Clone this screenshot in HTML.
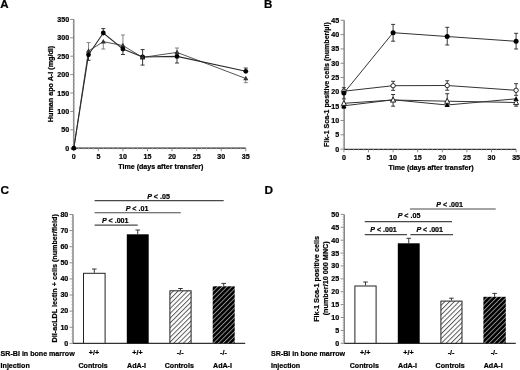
<!DOCTYPE html>
<html><head><meta charset="utf-8"><style>
html,body{margin:0;padding:0;background:#fff;width:520px;height:370px;overflow:hidden}
svg{display:block;filter:grayscale(1)}
text{font-family:"Liberation Sans", sans-serif;font-weight:bold;fill:#000;stroke:#000;stroke-width:0.22px}
</style></head><body>
<svg width="520" height="370" viewBox="0 0 520 370">
<defs>
<pattern id="hatchL" patternUnits="userSpaceOnUse" width="3.38" height="3.38" patternTransform="rotate(45)">
<rect width="3.38" height="3.38" fill="#fff"/><rect x="0" y="0" width="0.95" height="3.38" fill="#555"/></pattern>
<pattern id="hatchD" patternUnits="userSpaceOnUse" width="3.36" height="3.36" patternTransform="rotate(45)">
<rect width="3.36" height="3.36" fill="#000"/><rect x="0" y="0" width="0.9" height="3.36" fill="#999"/></pattern>
</defs>
<rect width="520" height="370" fill="#fff"/>
<text x="0.30" y="8.30" text-anchor="start" font-size="11.5" >A</text>
<text x="263.90" y="8.30" text-anchor="start" font-size="11.5" >B</text>
<text x="0.40" y="193.50" text-anchor="start" font-size="11.8" >C</text>
<text x="264.50" y="193.50" text-anchor="start" font-size="11.8" >D</text>
<line x1="73.80" y1="19.40" x2="73.80" y2="148.20" stroke="#666" stroke-width="1.2"/>
<line x1="73.80" y1="148.20" x2="245.79" y2="148.20" stroke="#2a2a2a" stroke-width="1.2"/>
<line x1="70.30" y1="148.20" x2="73.80" y2="148.20" stroke="#8a8a8a" stroke-width="1.0"/>
<text x="69.20" y="150.70" text-anchor="end" font-size="7.1" >0</text>
<line x1="70.30" y1="129.80" x2="73.80" y2="129.80" stroke="#8a8a8a" stroke-width="1.0"/>
<text x="69.20" y="132.30" text-anchor="end" font-size="7.1" >50</text>
<line x1="70.30" y1="111.40" x2="73.80" y2="111.40" stroke="#8a8a8a" stroke-width="1.0"/>
<text x="69.20" y="113.90" text-anchor="end" font-size="7.1" >100</text>
<line x1="70.30" y1="93.00" x2="73.80" y2="93.00" stroke="#8a8a8a" stroke-width="1.0"/>
<text x="69.20" y="95.50" text-anchor="end" font-size="7.1" >150</text>
<line x1="70.30" y1="74.60" x2="73.80" y2="74.60" stroke="#8a8a8a" stroke-width="1.0"/>
<text x="69.20" y="77.10" text-anchor="end" font-size="7.1" >200</text>
<line x1="70.30" y1="56.20" x2="73.80" y2="56.20" stroke="#8a8a8a" stroke-width="1.0"/>
<text x="69.20" y="58.70" text-anchor="end" font-size="7.1" >250</text>
<line x1="70.30" y1="37.80" x2="73.80" y2="37.80" stroke="#8a8a8a" stroke-width="1.0"/>
<text x="69.20" y="40.30" text-anchor="end" font-size="7.1" >300</text>
<line x1="70.30" y1="19.40" x2="73.80" y2="19.40" stroke="#8a8a8a" stroke-width="1.0"/>
<text x="69.20" y="21.90" text-anchor="end" font-size="7.1" >350</text>
<line x1="72.30" y1="144.52" x2="73.80" y2="144.52" stroke="#c4c4c4" stroke-width="0.8"/>
<line x1="72.30" y1="140.84" x2="73.80" y2="140.84" stroke="#c4c4c4" stroke-width="0.8"/>
<line x1="72.30" y1="137.16" x2="73.80" y2="137.16" stroke="#c4c4c4" stroke-width="0.8"/>
<line x1="72.30" y1="133.48" x2="73.80" y2="133.48" stroke="#c4c4c4" stroke-width="0.8"/>
<line x1="72.30" y1="126.12" x2="73.80" y2="126.12" stroke="#c4c4c4" stroke-width="0.8"/>
<line x1="72.30" y1="122.44" x2="73.80" y2="122.44" stroke="#c4c4c4" stroke-width="0.8"/>
<line x1="72.30" y1="118.76" x2="73.80" y2="118.76" stroke="#c4c4c4" stroke-width="0.8"/>
<line x1="72.30" y1="115.08" x2="73.80" y2="115.08" stroke="#c4c4c4" stroke-width="0.8"/>
<line x1="72.30" y1="107.72" x2="73.80" y2="107.72" stroke="#c4c4c4" stroke-width="0.8"/>
<line x1="72.30" y1="104.04" x2="73.80" y2="104.04" stroke="#c4c4c4" stroke-width="0.8"/>
<line x1="72.30" y1="100.36" x2="73.80" y2="100.36" stroke="#c4c4c4" stroke-width="0.8"/>
<line x1="72.30" y1="96.68" x2="73.80" y2="96.68" stroke="#c4c4c4" stroke-width="0.8"/>
<line x1="72.30" y1="89.32" x2="73.80" y2="89.32" stroke="#c4c4c4" stroke-width="0.8"/>
<line x1="72.30" y1="85.64" x2="73.80" y2="85.64" stroke="#c4c4c4" stroke-width="0.8"/>
<line x1="72.30" y1="81.96" x2="73.80" y2="81.96" stroke="#c4c4c4" stroke-width="0.8"/>
<line x1="72.30" y1="78.28" x2="73.80" y2="78.28" stroke="#c4c4c4" stroke-width="0.8"/>
<line x1="72.30" y1="70.92" x2="73.80" y2="70.92" stroke="#c4c4c4" stroke-width="0.8"/>
<line x1="72.30" y1="67.24" x2="73.80" y2="67.24" stroke="#c4c4c4" stroke-width="0.8"/>
<line x1="72.30" y1="63.56" x2="73.80" y2="63.56" stroke="#c4c4c4" stroke-width="0.8"/>
<line x1="72.30" y1="59.88" x2="73.80" y2="59.88" stroke="#c4c4c4" stroke-width="0.8"/>
<line x1="72.30" y1="52.52" x2="73.80" y2="52.52" stroke="#c4c4c4" stroke-width="0.8"/>
<line x1="72.30" y1="48.84" x2="73.80" y2="48.84" stroke="#c4c4c4" stroke-width="0.8"/>
<line x1="72.30" y1="45.16" x2="73.80" y2="45.16" stroke="#c4c4c4" stroke-width="0.8"/>
<line x1="72.30" y1="41.48" x2="73.80" y2="41.48" stroke="#c4c4c4" stroke-width="0.8"/>
<line x1="72.30" y1="34.12" x2="73.80" y2="34.12" stroke="#c4c4c4" stroke-width="0.8"/>
<line x1="72.30" y1="30.44" x2="73.80" y2="30.44" stroke="#c4c4c4" stroke-width="0.8"/>
<line x1="72.30" y1="26.76" x2="73.80" y2="26.76" stroke="#c4c4c4" stroke-width="0.8"/>
<line x1="72.30" y1="23.08" x2="73.80" y2="23.08" stroke="#c4c4c4" stroke-width="0.8"/>
<line x1="73.80" y1="148.20" x2="73.80" y2="151.20" stroke="#8a8a8a" stroke-width="1.0"/>
<text x="73.80" y="159.40" text-anchor="middle" font-size="7.1" >0</text>
<line x1="98.37" y1="148.20" x2="98.37" y2="151.20" stroke="#8a8a8a" stroke-width="1.0"/>
<text x="98.37" y="159.40" text-anchor="middle" font-size="7.1" >5</text>
<line x1="122.94" y1="148.20" x2="122.94" y2="151.20" stroke="#8a8a8a" stroke-width="1.0"/>
<text x="122.94" y="159.40" text-anchor="middle" font-size="7.1" >10</text>
<line x1="147.51" y1="148.20" x2="147.51" y2="151.20" stroke="#8a8a8a" stroke-width="1.0"/>
<text x="147.51" y="159.40" text-anchor="middle" font-size="7.1" >15</text>
<line x1="172.08" y1="148.20" x2="172.08" y2="151.20" stroke="#8a8a8a" stroke-width="1.0"/>
<text x="172.08" y="159.40" text-anchor="middle" font-size="7.1" >20</text>
<line x1="196.65" y1="148.20" x2="196.65" y2="151.20" stroke="#8a8a8a" stroke-width="1.0"/>
<text x="196.65" y="159.40" text-anchor="middle" font-size="7.1" >25</text>
<line x1="221.22" y1="148.20" x2="221.22" y2="151.20" stroke="#8a8a8a" stroke-width="1.0"/>
<text x="221.22" y="159.40" text-anchor="middle" font-size="7.1" >30</text>
<line x1="245.79" y1="148.20" x2="245.79" y2="151.20" stroke="#8a8a8a" stroke-width="1.0"/>
<text x="245.79" y="159.40" text-anchor="middle" font-size="7.1" >35</text>
<line x1="78.71" y1="148.20" x2="78.71" y2="149.70" stroke="#c4c4c4" stroke-width="0.8"/>
<line x1="83.63" y1="148.20" x2="83.63" y2="149.70" stroke="#c4c4c4" stroke-width="0.8"/>
<line x1="88.54" y1="148.20" x2="88.54" y2="149.70" stroke="#c4c4c4" stroke-width="0.8"/>
<line x1="93.46" y1="148.20" x2="93.46" y2="149.70" stroke="#c4c4c4" stroke-width="0.8"/>
<line x1="103.28" y1="148.20" x2="103.28" y2="149.70" stroke="#c4c4c4" stroke-width="0.8"/>
<line x1="108.20" y1="148.20" x2="108.20" y2="149.70" stroke="#c4c4c4" stroke-width="0.8"/>
<line x1="113.11" y1="148.20" x2="113.11" y2="149.70" stroke="#c4c4c4" stroke-width="0.8"/>
<line x1="118.03" y1="148.20" x2="118.03" y2="149.70" stroke="#c4c4c4" stroke-width="0.8"/>
<line x1="127.85" y1="148.20" x2="127.85" y2="149.70" stroke="#c4c4c4" stroke-width="0.8"/>
<line x1="132.77" y1="148.20" x2="132.77" y2="149.70" stroke="#c4c4c4" stroke-width="0.8"/>
<line x1="137.68" y1="148.20" x2="137.68" y2="149.70" stroke="#c4c4c4" stroke-width="0.8"/>
<line x1="142.60" y1="148.20" x2="142.60" y2="149.70" stroke="#c4c4c4" stroke-width="0.8"/>
<line x1="152.42" y1="148.20" x2="152.42" y2="149.70" stroke="#c4c4c4" stroke-width="0.8"/>
<line x1="157.34" y1="148.20" x2="157.34" y2="149.70" stroke="#c4c4c4" stroke-width="0.8"/>
<line x1="162.25" y1="148.20" x2="162.25" y2="149.70" stroke="#c4c4c4" stroke-width="0.8"/>
<line x1="167.17" y1="148.20" x2="167.17" y2="149.70" stroke="#c4c4c4" stroke-width="0.8"/>
<line x1="176.99" y1="148.20" x2="176.99" y2="149.70" stroke="#c4c4c4" stroke-width="0.8"/>
<line x1="181.91" y1="148.20" x2="181.91" y2="149.70" stroke="#c4c4c4" stroke-width="0.8"/>
<line x1="186.82" y1="148.20" x2="186.82" y2="149.70" stroke="#c4c4c4" stroke-width="0.8"/>
<line x1="191.74" y1="148.20" x2="191.74" y2="149.70" stroke="#c4c4c4" stroke-width="0.8"/>
<line x1="201.56" y1="148.20" x2="201.56" y2="149.70" stroke="#c4c4c4" stroke-width="0.8"/>
<line x1="206.48" y1="148.20" x2="206.48" y2="149.70" stroke="#c4c4c4" stroke-width="0.8"/>
<line x1="211.39" y1="148.20" x2="211.39" y2="149.70" stroke="#c4c4c4" stroke-width="0.8"/>
<line x1="216.31" y1="148.20" x2="216.31" y2="149.70" stroke="#c4c4c4" stroke-width="0.8"/>
<line x1="226.13" y1="148.20" x2="226.13" y2="149.70" stroke="#c4c4c4" stroke-width="0.8"/>
<line x1="231.05" y1="148.20" x2="231.05" y2="149.70" stroke="#c4c4c4" stroke-width="0.8"/>
<line x1="235.96" y1="148.20" x2="235.96" y2="149.70" stroke="#c4c4c4" stroke-width="0.8"/>
<line x1="240.88" y1="148.20" x2="240.88" y2="149.70" stroke="#c4c4c4" stroke-width="0.8"/>
<text x="160.79" y="169.20" text-anchor="middle" font-size="7.1" >Time (days after transfer)</text>
<text transform="translate(53.40,84.00) rotate(-90)" text-anchor="middle" font-size="7.2">Human apo A-I (mg/dl)</text>
<line x1="88.54" y1="51.00" x2="88.54" y2="42.60" stroke="#777" stroke-width="0.9"/>
<line x1="86.54" y1="42.60" x2="90.54" y2="42.60" stroke="#777" stroke-width="0.9"/>
<line x1="88.54" y1="54.80" x2="88.54" y2="60.30" stroke="#222" stroke-width="0.9"/>
<line x1="86.54" y1="60.30" x2="90.54" y2="60.30" stroke="#222" stroke-width="0.9"/>
<line x1="103.28" y1="41.70" x2="103.28" y2="49.00" stroke="#777" stroke-width="0.9"/>
<line x1="101.28" y1="49.00" x2="105.28" y2="49.00" stroke="#777" stroke-width="0.9"/>
<line x1="103.28" y1="33.00" x2="103.28" y2="28.60" stroke="#222" stroke-width="0.9"/>
<line x1="101.28" y1="28.60" x2="105.28" y2="28.60" stroke="#222" stroke-width="0.9"/>
<line x1="122.94" y1="45.50" x2="122.94" y2="35.00" stroke="#777" stroke-width="0.9"/>
<line x1="120.94" y1="35.00" x2="124.94" y2="35.00" stroke="#777" stroke-width="0.9"/>
<line x1="122.94" y1="49.00" x2="122.94" y2="54.50" stroke="#222" stroke-width="0.9"/>
<line x1="120.94" y1="54.50" x2="124.94" y2="54.50" stroke="#222" stroke-width="0.9"/>
<line x1="142.60" y1="57.00" x2="142.60" y2="49.60" stroke="#222" stroke-width="0.9"/>
<line x1="140.60" y1="49.60" x2="144.60" y2="49.60" stroke="#222" stroke-width="0.9"/>
<line x1="142.60" y1="57.00" x2="142.60" y2="65.10" stroke="#222" stroke-width="0.9"/>
<line x1="140.60" y1="65.10" x2="144.60" y2="65.10" stroke="#222" stroke-width="0.9"/>
<line x1="176.99" y1="52.40" x2="176.99" y2="48.00" stroke="#777" stroke-width="0.9"/>
<line x1="174.99" y1="48.00" x2="178.99" y2="48.00" stroke="#777" stroke-width="0.9"/>
<line x1="176.99" y1="56.40" x2="176.99" y2="63.00" stroke="#222" stroke-width="0.9"/>
<line x1="174.99" y1="63.00" x2="178.99" y2="63.00" stroke="#222" stroke-width="0.9"/>
<line x1="245.79" y1="78.50" x2="245.79" y2="82.70" stroke="#777" stroke-width="0.9"/>
<line x1="243.79" y1="82.70" x2="247.79" y2="82.70" stroke="#777" stroke-width="0.9"/>
<line x1="245.79" y1="71.30" x2="245.79" y2="68.00" stroke="#222" stroke-width="0.9"/>
<line x1="243.79" y1="68.00" x2="247.79" y2="68.00" stroke="#222" stroke-width="0.9"/>
<polyline fill="none" stroke="#555" stroke-width="1.0" points="73.8,148.2 88.5,51.0 103.3,41.7 122.9,45.5 142.6,57.4 177.0,52.4 245.8,78.5"/>
<polyline fill="none" stroke="#2a2a2a" stroke-width="1.05" points="73.8,148.2 88.5,54.8 103.3,33.0 122.9,49.0 142.6,57.0 177.0,56.4 245.8,71.3"/>
<polygon points="73.8,145.4 71.2,150.0 76.4,150.0" fill="#333"/>
<polygon points="88.5,48.2 85.9,52.8 91.1,52.8" fill="#333"/>
<polygon points="103.3,38.9 100.7,43.5 105.9,43.5" fill="#333"/>
<polygon points="122.9,42.7 120.3,47.3 125.5,47.3" fill="#333"/>
<polygon points="142.6,54.6 140.0,59.2 145.2,59.2" fill="#333"/>
<polygon points="177.0,49.6 174.4,54.2 179.6,54.2" fill="#333"/>
<polygon points="245.8,75.7 243.2,80.3 248.4,80.3" fill="#333"/>
<circle cx="73.8" cy="148.2" r="2.4" fill="#000"/>
<circle cx="88.5" cy="54.8" r="2.4" fill="#000"/>
<circle cx="103.3" cy="33.0" r="2.4" fill="#000"/>
<circle cx="122.9" cy="49.0" r="2.4" fill="#000"/>
<circle cx="142.6" cy="57.0" r="2.4" fill="#000"/>
<circle cx="177.0" cy="56.4" r="2.4" fill="#000"/>
<circle cx="245.8" cy="71.3" r="2.4" fill="#000"/>
<polygon points="142.6,54.6 140.0,59.2 145.2,59.2" fill="#2a2a2a"/>
<line x1="344.10" y1="20.31" x2="344.10" y2="149.30" stroke="#666" stroke-width="1.2"/>
<line x1="344.10" y1="149.30" x2="516.10" y2="149.30" stroke="#333" stroke-width="1.2"/>
<line x1="340.60" y1="149.10" x2="344.10" y2="149.10" stroke="#8a8a8a" stroke-width="1.0"/>
<text x="339.10" y="151.60" text-anchor="end" font-size="7.1" >0</text>
<line x1="340.60" y1="134.79" x2="344.10" y2="134.79" stroke="#8a8a8a" stroke-width="1.0"/>
<text x="339.10" y="137.29" text-anchor="end" font-size="7.1" >5</text>
<line x1="340.60" y1="120.48" x2="344.10" y2="120.48" stroke="#8a8a8a" stroke-width="1.0"/>
<text x="339.10" y="122.98" text-anchor="end" font-size="7.1" >10</text>
<line x1="340.60" y1="106.17" x2="344.10" y2="106.17" stroke="#8a8a8a" stroke-width="1.0"/>
<text x="339.10" y="108.67" text-anchor="end" font-size="7.1" >15</text>
<line x1="340.60" y1="91.86" x2="344.10" y2="91.86" stroke="#8a8a8a" stroke-width="1.0"/>
<text x="339.10" y="94.36" text-anchor="end" font-size="7.1" >20</text>
<line x1="340.60" y1="77.55" x2="344.10" y2="77.55" stroke="#8a8a8a" stroke-width="1.0"/>
<text x="339.10" y="80.05" text-anchor="end" font-size="7.1" >25</text>
<line x1="340.60" y1="63.24" x2="344.10" y2="63.24" stroke="#8a8a8a" stroke-width="1.0"/>
<text x="339.10" y="65.74" text-anchor="end" font-size="7.1" >30</text>
<line x1="340.60" y1="48.93" x2="344.10" y2="48.93" stroke="#8a8a8a" stroke-width="1.0"/>
<text x="339.10" y="51.43" text-anchor="end" font-size="7.1" >35</text>
<line x1="340.60" y1="34.62" x2="344.10" y2="34.62" stroke="#8a8a8a" stroke-width="1.0"/>
<text x="339.10" y="37.12" text-anchor="end" font-size="7.1" >40</text>
<line x1="340.60" y1="20.31" x2="344.10" y2="20.31" stroke="#8a8a8a" stroke-width="1.0"/>
<text x="339.10" y="22.81" text-anchor="end" font-size="7.1" >45</text>
<line x1="342.60" y1="146.24" x2="344.10" y2="146.24" stroke="#c4c4c4" stroke-width="0.8"/>
<line x1="342.60" y1="143.38" x2="344.10" y2="143.38" stroke="#c4c4c4" stroke-width="0.8"/>
<line x1="342.60" y1="140.51" x2="344.10" y2="140.51" stroke="#c4c4c4" stroke-width="0.8"/>
<line x1="342.60" y1="137.65" x2="344.10" y2="137.65" stroke="#c4c4c4" stroke-width="0.8"/>
<line x1="342.60" y1="131.93" x2="344.10" y2="131.93" stroke="#c4c4c4" stroke-width="0.8"/>
<line x1="342.60" y1="129.07" x2="344.10" y2="129.07" stroke="#c4c4c4" stroke-width="0.8"/>
<line x1="342.60" y1="126.20" x2="344.10" y2="126.20" stroke="#c4c4c4" stroke-width="0.8"/>
<line x1="342.60" y1="123.34" x2="344.10" y2="123.34" stroke="#c4c4c4" stroke-width="0.8"/>
<line x1="342.60" y1="117.62" x2="344.10" y2="117.62" stroke="#c4c4c4" stroke-width="0.8"/>
<line x1="342.60" y1="114.76" x2="344.10" y2="114.76" stroke="#c4c4c4" stroke-width="0.8"/>
<line x1="342.60" y1="111.89" x2="344.10" y2="111.89" stroke="#c4c4c4" stroke-width="0.8"/>
<line x1="342.60" y1="109.03" x2="344.10" y2="109.03" stroke="#c4c4c4" stroke-width="0.8"/>
<line x1="342.60" y1="103.31" x2="344.10" y2="103.31" stroke="#c4c4c4" stroke-width="0.8"/>
<line x1="342.60" y1="100.45" x2="344.10" y2="100.45" stroke="#c4c4c4" stroke-width="0.8"/>
<line x1="342.60" y1="97.58" x2="344.10" y2="97.58" stroke="#c4c4c4" stroke-width="0.8"/>
<line x1="342.60" y1="94.72" x2="344.10" y2="94.72" stroke="#c4c4c4" stroke-width="0.8"/>
<line x1="342.60" y1="89.00" x2="344.10" y2="89.00" stroke="#c4c4c4" stroke-width="0.8"/>
<line x1="342.60" y1="86.14" x2="344.10" y2="86.14" stroke="#c4c4c4" stroke-width="0.8"/>
<line x1="342.60" y1="83.27" x2="344.10" y2="83.27" stroke="#c4c4c4" stroke-width="0.8"/>
<line x1="342.60" y1="80.41" x2="344.10" y2="80.41" stroke="#c4c4c4" stroke-width="0.8"/>
<line x1="342.60" y1="74.69" x2="344.10" y2="74.69" stroke="#c4c4c4" stroke-width="0.8"/>
<line x1="342.60" y1="71.83" x2="344.10" y2="71.83" stroke="#c4c4c4" stroke-width="0.8"/>
<line x1="342.60" y1="68.96" x2="344.10" y2="68.96" stroke="#c4c4c4" stroke-width="0.8"/>
<line x1="342.60" y1="66.10" x2="344.10" y2="66.10" stroke="#c4c4c4" stroke-width="0.8"/>
<line x1="342.60" y1="60.38" x2="344.10" y2="60.38" stroke="#c4c4c4" stroke-width="0.8"/>
<line x1="342.60" y1="57.52" x2="344.10" y2="57.52" stroke="#c4c4c4" stroke-width="0.8"/>
<line x1="342.60" y1="54.65" x2="344.10" y2="54.65" stroke="#c4c4c4" stroke-width="0.8"/>
<line x1="342.60" y1="51.79" x2="344.10" y2="51.79" stroke="#c4c4c4" stroke-width="0.8"/>
<line x1="342.60" y1="46.07" x2="344.10" y2="46.07" stroke="#c4c4c4" stroke-width="0.8"/>
<line x1="342.60" y1="43.21" x2="344.10" y2="43.21" stroke="#c4c4c4" stroke-width="0.8"/>
<line x1="342.60" y1="40.34" x2="344.10" y2="40.34" stroke="#c4c4c4" stroke-width="0.8"/>
<line x1="342.60" y1="37.48" x2="344.10" y2="37.48" stroke="#c4c4c4" stroke-width="0.8"/>
<line x1="342.60" y1="31.76" x2="344.10" y2="31.76" stroke="#c4c4c4" stroke-width="0.8"/>
<line x1="342.60" y1="28.90" x2="344.10" y2="28.90" stroke="#c4c4c4" stroke-width="0.8"/>
<line x1="342.60" y1="26.03" x2="344.10" y2="26.03" stroke="#c4c4c4" stroke-width="0.8"/>
<line x1="342.60" y1="23.17" x2="344.10" y2="23.17" stroke="#c4c4c4" stroke-width="0.8"/>
<line x1="343.90" y1="149.30" x2="343.90" y2="152.30" stroke="#8a8a8a" stroke-width="1.0"/>
<text x="343.90" y="160.30" text-anchor="middle" font-size="7.1" >0</text>
<line x1="368.50" y1="149.30" x2="368.50" y2="152.30" stroke="#8a8a8a" stroke-width="1.0"/>
<text x="368.50" y="160.30" text-anchor="middle" font-size="7.1" >5</text>
<line x1="393.10" y1="149.30" x2="393.10" y2="152.30" stroke="#8a8a8a" stroke-width="1.0"/>
<text x="393.10" y="160.30" text-anchor="middle" font-size="7.1" >10</text>
<line x1="417.70" y1="149.30" x2="417.70" y2="152.30" stroke="#8a8a8a" stroke-width="1.0"/>
<text x="417.70" y="160.30" text-anchor="middle" font-size="7.1" >15</text>
<line x1="442.30" y1="149.30" x2="442.30" y2="152.30" stroke="#8a8a8a" stroke-width="1.0"/>
<text x="442.30" y="160.30" text-anchor="middle" font-size="7.1" >20</text>
<line x1="466.90" y1="149.30" x2="466.90" y2="152.30" stroke="#8a8a8a" stroke-width="1.0"/>
<text x="466.90" y="160.30" text-anchor="middle" font-size="7.1" >25</text>
<line x1="491.50" y1="149.30" x2="491.50" y2="152.30" stroke="#8a8a8a" stroke-width="1.0"/>
<text x="491.50" y="160.30" text-anchor="middle" font-size="7.1" >30</text>
<line x1="516.10" y1="149.30" x2="516.10" y2="152.30" stroke="#8a8a8a" stroke-width="1.0"/>
<text x="516.10" y="160.30" text-anchor="middle" font-size="7.1" >35</text>
<line x1="348.82" y1="149.30" x2="348.82" y2="150.80" stroke="#c4c4c4" stroke-width="0.8"/>
<line x1="353.74" y1="149.30" x2="353.74" y2="150.80" stroke="#c4c4c4" stroke-width="0.8"/>
<line x1="358.66" y1="149.30" x2="358.66" y2="150.80" stroke="#c4c4c4" stroke-width="0.8"/>
<line x1="363.58" y1="149.30" x2="363.58" y2="150.80" stroke="#c4c4c4" stroke-width="0.8"/>
<line x1="373.42" y1="149.30" x2="373.42" y2="150.80" stroke="#c4c4c4" stroke-width="0.8"/>
<line x1="378.34" y1="149.30" x2="378.34" y2="150.80" stroke="#c4c4c4" stroke-width="0.8"/>
<line x1="383.26" y1="149.30" x2="383.26" y2="150.80" stroke="#c4c4c4" stroke-width="0.8"/>
<line x1="388.18" y1="149.30" x2="388.18" y2="150.80" stroke="#c4c4c4" stroke-width="0.8"/>
<line x1="398.02" y1="149.30" x2="398.02" y2="150.80" stroke="#c4c4c4" stroke-width="0.8"/>
<line x1="402.94" y1="149.30" x2="402.94" y2="150.80" stroke="#c4c4c4" stroke-width="0.8"/>
<line x1="407.86" y1="149.30" x2="407.86" y2="150.80" stroke="#c4c4c4" stroke-width="0.8"/>
<line x1="412.78" y1="149.30" x2="412.78" y2="150.80" stroke="#c4c4c4" stroke-width="0.8"/>
<line x1="422.62" y1="149.30" x2="422.62" y2="150.80" stroke="#c4c4c4" stroke-width="0.8"/>
<line x1="427.54" y1="149.30" x2="427.54" y2="150.80" stroke="#c4c4c4" stroke-width="0.8"/>
<line x1="432.46" y1="149.30" x2="432.46" y2="150.80" stroke="#c4c4c4" stroke-width="0.8"/>
<line x1="437.38" y1="149.30" x2="437.38" y2="150.80" stroke="#c4c4c4" stroke-width="0.8"/>
<line x1="447.22" y1="149.30" x2="447.22" y2="150.80" stroke="#c4c4c4" stroke-width="0.8"/>
<line x1="452.14" y1="149.30" x2="452.14" y2="150.80" stroke="#c4c4c4" stroke-width="0.8"/>
<line x1="457.06" y1="149.30" x2="457.06" y2="150.80" stroke="#c4c4c4" stroke-width="0.8"/>
<line x1="461.98" y1="149.30" x2="461.98" y2="150.80" stroke="#c4c4c4" stroke-width="0.8"/>
<line x1="471.82" y1="149.30" x2="471.82" y2="150.80" stroke="#c4c4c4" stroke-width="0.8"/>
<line x1="476.74" y1="149.30" x2="476.74" y2="150.80" stroke="#c4c4c4" stroke-width="0.8"/>
<line x1="481.66" y1="149.30" x2="481.66" y2="150.80" stroke="#c4c4c4" stroke-width="0.8"/>
<line x1="486.58" y1="149.30" x2="486.58" y2="150.80" stroke="#c4c4c4" stroke-width="0.8"/>
<line x1="496.42" y1="149.30" x2="496.42" y2="150.80" stroke="#c4c4c4" stroke-width="0.8"/>
<line x1="501.34" y1="149.30" x2="501.34" y2="150.80" stroke="#c4c4c4" stroke-width="0.8"/>
<line x1="506.26" y1="149.30" x2="506.26" y2="150.80" stroke="#c4c4c4" stroke-width="0.8"/>
<line x1="511.18" y1="149.30" x2="511.18" y2="150.80" stroke="#c4c4c4" stroke-width="0.8"/>
<text x="431.00" y="170.20" text-anchor="middle" font-size="7.1" >Time (days after transfer)</text>
<text transform="translate(328.70,84.60) rotate(-90)" text-anchor="middle" font-size="7.1">Flk-1 Sca-1 positive cells (number/µl)</text>
<line x1="343.90" y1="103.30" x2="343.90" y2="108.40" stroke="#222" stroke-width="0.9"/>
<line x1="341.90" y1="108.40" x2="345.90" y2="108.40" stroke="#222" stroke-width="0.9"/>
<line x1="343.90" y1="93.00" x2="343.90" y2="87.70" stroke="#222" stroke-width="0.9"/>
<line x1="341.90" y1="87.70" x2="345.90" y2="87.70" stroke="#222" stroke-width="0.9"/>
<line x1="343.90" y1="93.00" x2="343.90" y2="98.90" stroke="#222" stroke-width="0.9"/>
<line x1="341.90" y1="98.90" x2="345.90" y2="98.90" stroke="#222" stroke-width="0.9"/>
<line x1="393.10" y1="100.00" x2="393.10" y2="94.50" stroke="#222" stroke-width="0.9"/>
<line x1="391.10" y1="94.50" x2="395.10" y2="94.50" stroke="#222" stroke-width="0.9"/>
<line x1="393.10" y1="100.00" x2="393.10" y2="106.20" stroke="#222" stroke-width="0.9"/>
<line x1="391.10" y1="106.20" x2="395.10" y2="106.20" stroke="#222" stroke-width="0.9"/>
<line x1="393.10" y1="85.70" x2="393.10" y2="81.30" stroke="#222" stroke-width="0.9"/>
<line x1="391.10" y1="81.30" x2="395.10" y2="81.30" stroke="#222" stroke-width="0.9"/>
<line x1="393.10" y1="85.70" x2="393.10" y2="90.30" stroke="#222" stroke-width="0.9"/>
<line x1="391.10" y1="90.30" x2="395.10" y2="90.30" stroke="#222" stroke-width="0.9"/>
<line x1="393.10" y1="32.70" x2="393.10" y2="24.40" stroke="#222" stroke-width="0.9"/>
<line x1="391.10" y1="24.40" x2="395.10" y2="24.40" stroke="#222" stroke-width="0.9"/>
<line x1="393.10" y1="32.70" x2="393.10" y2="41.20" stroke="#222" stroke-width="0.9"/>
<line x1="391.10" y1="41.20" x2="395.10" y2="41.20" stroke="#222" stroke-width="0.9"/>
<line x1="447.22" y1="101.20" x2="447.22" y2="93.70" stroke="#222" stroke-width="0.9"/>
<line x1="445.22" y1="93.70" x2="449.22" y2="93.70" stroke="#222" stroke-width="0.9"/>
<line x1="447.22" y1="85.50" x2="447.22" y2="80.80" stroke="#222" stroke-width="0.9"/>
<line x1="445.22" y1="80.80" x2="449.22" y2="80.80" stroke="#222" stroke-width="0.9"/>
<line x1="447.22" y1="85.50" x2="447.22" y2="90.20" stroke="#222" stroke-width="0.9"/>
<line x1="445.22" y1="90.20" x2="449.22" y2="90.20" stroke="#222" stroke-width="0.9"/>
<line x1="447.22" y1="36.50" x2="447.22" y2="27.30" stroke="#222" stroke-width="0.9"/>
<line x1="445.22" y1="27.30" x2="449.22" y2="27.30" stroke="#222" stroke-width="0.9"/>
<line x1="447.22" y1="36.50" x2="447.22" y2="45.00" stroke="#222" stroke-width="0.9"/>
<line x1="445.22" y1="45.00" x2="449.22" y2="45.00" stroke="#222" stroke-width="0.9"/>
<line x1="516.10" y1="102.50" x2="516.10" y2="106.20" stroke="#222" stroke-width="0.9"/>
<line x1="514.10" y1="106.20" x2="518.10" y2="106.20" stroke="#222" stroke-width="0.9"/>
<line x1="516.10" y1="90.30" x2="516.10" y2="83.70" stroke="#222" stroke-width="0.9"/>
<line x1="514.10" y1="83.70" x2="518.10" y2="83.70" stroke="#222" stroke-width="0.9"/>
<line x1="516.10" y1="90.30" x2="516.10" y2="95.30" stroke="#222" stroke-width="0.9"/>
<line x1="514.10" y1="95.30" x2="518.10" y2="95.30" stroke="#222" stroke-width="0.9"/>
<line x1="516.10" y1="41.30" x2="516.10" y2="33.30" stroke="#222" stroke-width="0.9"/>
<line x1="514.10" y1="33.30" x2="518.10" y2="33.30" stroke="#222" stroke-width="0.9"/>
<line x1="516.10" y1="41.30" x2="516.10" y2="49.00" stroke="#222" stroke-width="0.9"/>
<line x1="514.10" y1="49.00" x2="518.10" y2="49.00" stroke="#222" stroke-width="0.9"/>
<polyline fill="none" stroke="#333" stroke-width="1.0" points="343.9,105.8 393.1,99.8 447.2,105.0 516.1,98.8"/>
<polyline fill="none" stroke="#333" stroke-width="1.0" points="343.9,103.3 393.1,100.0 447.2,101.2 516.1,102.5"/>
<polyline fill="none" stroke="#333" stroke-width="1.0" points="343.9,91.2 393.1,85.7 447.2,85.5 516.1,90.3"/>
<polyline fill="none" stroke="#333" stroke-width="1.0" points="343.9,93.0 393.1,32.7 447.2,36.5 516.1,41.3"/>
<polygon points="343.9,102.9 341.3,107.9 346.5,107.9" fill="#000"/>
<polygon points="393.1,96.9 390.5,101.9 395.7,101.9" fill="#000"/>
<polygon points="447.2,102.1 444.6,107.1 449.8,107.1" fill="#000"/>
<polygon points="516.1,95.9 513.5,100.9 518.7,100.9" fill="#000"/>
<polygon points="343.9,100.4 341.4,105.4 346.4,105.4" fill="#fff" stroke="#111" stroke-width="0.9"/>
<polygon points="393.1,97.1 390.6,102.1 395.6,102.1" fill="#fff" stroke="#111" stroke-width="0.9"/>
<polygon points="447.2,98.3 444.7,103.3 449.7,103.3" fill="#fff" stroke="#111" stroke-width="0.9"/>
<polygon points="516.1,99.6 513.6,104.6 518.6,104.6" fill="#fff" stroke="#111" stroke-width="0.9"/>
<circle cx="343.9" cy="91.2" r="2.2" fill="#fff" stroke="#111" stroke-width="0.9"/>
<circle cx="393.1" cy="85.7" r="2.2" fill="#fff" stroke="#111" stroke-width="0.9"/>
<circle cx="447.2" cy="85.5" r="2.2" fill="#fff" stroke="#111" stroke-width="0.9"/>
<circle cx="516.1" cy="90.3" r="2.2" fill="#fff" stroke="#111" stroke-width="0.9"/>
<circle cx="343.9" cy="93.0" r="2.5" fill="#000"/>
<circle cx="393.1" cy="32.7" r="2.5" fill="#000"/>
<circle cx="447.2" cy="36.5" r="2.5" fill="#000"/>
<circle cx="516.1" cy="41.3" r="2.5" fill="#000"/>
<line x1="73.00" y1="214.50" x2="73.00" y2="343.30" stroke="#666" stroke-width="1.2"/>
<line x1="73.00" y1="343.30" x2="245.20" y2="343.30" stroke="#333" stroke-width="1.2"/>
<line x1="69.50" y1="343.30" x2="73.00" y2="343.30" stroke="#8a8a8a" stroke-width="1.0"/>
<text x="68.30" y="345.60" text-anchor="end" font-size="7.1" >0</text>
<line x1="69.50" y1="327.20" x2="73.00" y2="327.20" stroke="#8a8a8a" stroke-width="1.0"/>
<text x="68.30" y="329.50" text-anchor="end" font-size="7.1" >10</text>
<line x1="69.50" y1="311.10" x2="73.00" y2="311.10" stroke="#8a8a8a" stroke-width="1.0"/>
<text x="68.30" y="313.40" text-anchor="end" font-size="7.1" >20</text>
<line x1="69.50" y1="295.00" x2="73.00" y2="295.00" stroke="#8a8a8a" stroke-width="1.0"/>
<text x="68.30" y="297.30" text-anchor="end" font-size="7.1" >30</text>
<line x1="69.50" y1="278.90" x2="73.00" y2="278.90" stroke="#8a8a8a" stroke-width="1.0"/>
<text x="68.30" y="281.20" text-anchor="end" font-size="7.1" >40</text>
<line x1="69.50" y1="262.80" x2="73.00" y2="262.80" stroke="#8a8a8a" stroke-width="1.0"/>
<text x="68.30" y="265.10" text-anchor="end" font-size="7.1" >50</text>
<line x1="69.50" y1="246.70" x2="73.00" y2="246.70" stroke="#8a8a8a" stroke-width="1.0"/>
<text x="68.30" y="249.00" text-anchor="end" font-size="7.1" >60</text>
<line x1="69.50" y1="230.60" x2="73.00" y2="230.60" stroke="#8a8a8a" stroke-width="1.0"/>
<text x="68.30" y="232.90" text-anchor="end" font-size="7.1" >70</text>
<line x1="69.50" y1="214.50" x2="73.00" y2="214.50" stroke="#8a8a8a" stroke-width="1.0"/>
<text x="68.30" y="216.80" text-anchor="end" font-size="7.1" >80</text>
<line x1="71.40" y1="340.08" x2="73.00" y2="340.08" stroke="#aaa" stroke-width="0.8"/>
<line x1="71.40" y1="336.86" x2="73.00" y2="336.86" stroke="#aaa" stroke-width="0.8"/>
<line x1="71.40" y1="333.64" x2="73.00" y2="333.64" stroke="#aaa" stroke-width="0.8"/>
<line x1="71.40" y1="330.42" x2="73.00" y2="330.42" stroke="#aaa" stroke-width="0.8"/>
<line x1="71.40" y1="323.98" x2="73.00" y2="323.98" stroke="#aaa" stroke-width="0.8"/>
<line x1="71.40" y1="320.76" x2="73.00" y2="320.76" stroke="#aaa" stroke-width="0.8"/>
<line x1="71.40" y1="317.54" x2="73.00" y2="317.54" stroke="#aaa" stroke-width="0.8"/>
<line x1="71.40" y1="314.32" x2="73.00" y2="314.32" stroke="#aaa" stroke-width="0.8"/>
<line x1="71.40" y1="307.88" x2="73.00" y2="307.88" stroke="#aaa" stroke-width="0.8"/>
<line x1="71.40" y1="304.66" x2="73.00" y2="304.66" stroke="#aaa" stroke-width="0.8"/>
<line x1="71.40" y1="301.44" x2="73.00" y2="301.44" stroke="#aaa" stroke-width="0.8"/>
<line x1="71.40" y1="298.22" x2="73.00" y2="298.22" stroke="#aaa" stroke-width="0.8"/>
<line x1="71.40" y1="291.78" x2="73.00" y2="291.78" stroke="#aaa" stroke-width="0.8"/>
<line x1="71.40" y1="288.56" x2="73.00" y2="288.56" stroke="#aaa" stroke-width="0.8"/>
<line x1="71.40" y1="285.34" x2="73.00" y2="285.34" stroke="#aaa" stroke-width="0.8"/>
<line x1="71.40" y1="282.12" x2="73.00" y2="282.12" stroke="#aaa" stroke-width="0.8"/>
<line x1="71.40" y1="275.68" x2="73.00" y2="275.68" stroke="#aaa" stroke-width="0.8"/>
<line x1="71.40" y1="272.46" x2="73.00" y2="272.46" stroke="#aaa" stroke-width="0.8"/>
<line x1="71.40" y1="269.24" x2="73.00" y2="269.24" stroke="#aaa" stroke-width="0.8"/>
<line x1="71.40" y1="266.02" x2="73.00" y2="266.02" stroke="#aaa" stroke-width="0.8"/>
<line x1="71.40" y1="259.58" x2="73.00" y2="259.58" stroke="#aaa" stroke-width="0.8"/>
<line x1="71.40" y1="256.36" x2="73.00" y2="256.36" stroke="#aaa" stroke-width="0.8"/>
<line x1="71.40" y1="253.14" x2="73.00" y2="253.14" stroke="#aaa" stroke-width="0.8"/>
<line x1="71.40" y1="249.92" x2="73.00" y2="249.92" stroke="#aaa" stroke-width="0.8"/>
<line x1="71.40" y1="243.48" x2="73.00" y2="243.48" stroke="#aaa" stroke-width="0.8"/>
<line x1="71.40" y1="240.26" x2="73.00" y2="240.26" stroke="#aaa" stroke-width="0.8"/>
<line x1="71.40" y1="237.04" x2="73.00" y2="237.04" stroke="#aaa" stroke-width="0.8"/>
<line x1="71.40" y1="233.82" x2="73.00" y2="233.82" stroke="#aaa" stroke-width="0.8"/>
<line x1="71.40" y1="227.38" x2="73.00" y2="227.38" stroke="#aaa" stroke-width="0.8"/>
<line x1="71.40" y1="224.16" x2="73.00" y2="224.16" stroke="#aaa" stroke-width="0.8"/>
<line x1="71.40" y1="220.94" x2="73.00" y2="220.94" stroke="#aaa" stroke-width="0.8"/>
<line x1="71.40" y1="217.72" x2="73.00" y2="217.72" stroke="#aaa" stroke-width="0.8"/>
<text transform="translate(56.60,278.30) rotate(-90)" text-anchor="middle" font-size="7.2">DiI-acLDL lectin + cells (number/field)</text>
<line x1="94.30" y1="272.80" x2="94.30" y2="269.00" stroke="#222" stroke-width="0.9"/>
<line x1="92.00" y1="269.00" x2="96.60" y2="269.00" stroke="#222" stroke-width="0.9"/>
<rect x="83.50" y="273.30" width="21.60" height="70.00" fill="#fff" stroke="#222" stroke-width="1"/>
<line x1="137.75" y1="234.30" x2="137.75" y2="230.00" stroke="#222" stroke-width="0.9"/>
<line x1="135.45" y1="230.00" x2="140.05" y2="230.00" stroke="#222" stroke-width="0.9"/>
<rect x="126.80" y="234.30" width="21.90" height="109.00" fill="#000"/>
<line x1="180.50" y1="290.30" x2="180.50" y2="288.50" stroke="#222" stroke-width="0.9"/>
<line x1="178.20" y1="288.50" x2="182.80" y2="288.50" stroke="#222" stroke-width="0.9"/>
<rect x="169.90" y="290.80" width="21.20" height="52.50" fill="url(#hatchL)" stroke="#222" stroke-width="1"/>
<line x1="223.70" y1="286.30" x2="223.70" y2="283.40" stroke="#222" stroke-width="0.9"/>
<line x1="221.40" y1="283.40" x2="226.00" y2="283.40" stroke="#222" stroke-width="0.9"/>
<rect x="212.70" y="286.30" width="22.00" height="57.00" fill="url(#hatchD)"/>
<text x="94.00" y="355.20" text-anchor="middle" font-size="7.1" >+/+</text>
<text x="93.10" y="368.20" text-anchor="middle" font-size="7.1" >Controls</text>
<text x="137.45" y="355.20" text-anchor="middle" font-size="7.1" >+/+</text>
<text x="136.55" y="368.20" text-anchor="middle" font-size="7.1" >AdA-I</text>
<text x="180.20" y="355.20" text-anchor="middle" font-size="7.1" >-/-</text>
<text x="179.30" y="368.20" text-anchor="middle" font-size="7.1" >Controls</text>
<text x="223.40" y="355.20" text-anchor="middle" font-size="7.1" >-/-</text>
<text x="222.50" y="368.20" text-anchor="middle" font-size="7.1" >AdA-I</text>
<text x="0.60" y="355.60" text-anchor="start" font-size="7.1" >SR-BI in bone marrow</text>
<text x="0.60" y="368.20" text-anchor="start" font-size="7.1" >Injection</text>
<line x1="94.60" y1="200.60" x2="223.70" y2="200.60" stroke="#484848" stroke-width="1.05"/>
<line x1="94.60" y1="212.80" x2="180.80" y2="212.80" stroke="#484848" stroke-width="1.05"/>
<line x1="94.60" y1="225.10" x2="137.70" y2="225.10" stroke="#484848" stroke-width="1.05"/>
<text x="158.50" y="198.60" text-anchor="middle" font-size="7.1" ><tspan font-style="italic">P</tspan> &lt; .05</text>
<text x="137.00" y="210.60" text-anchor="middle" font-size="7.1" ><tspan font-style="italic">P</tspan> &lt; .01</text>
<text x="115.20" y="223.00" text-anchor="middle" font-size="7.1" ><tspan font-style="italic">P</tspan> &lt; .001</text>
<line x1="344.20" y1="214.40" x2="344.20" y2="343.30" stroke="#666" stroke-width="1.2"/>
<line x1="344.20" y1="343.30" x2="515.80" y2="343.30" stroke="#333" stroke-width="1.2"/>
<line x1="340.70" y1="343.30" x2="344.20" y2="343.30" stroke="#8a8a8a" stroke-width="1.0"/>
<text x="339.20" y="345.80" text-anchor="end" font-size="7.1" >0</text>
<line x1="340.70" y1="330.41" x2="344.20" y2="330.41" stroke="#8a8a8a" stroke-width="1.0"/>
<text x="339.20" y="332.91" text-anchor="end" font-size="7.1" >5</text>
<line x1="340.70" y1="317.52" x2="344.20" y2="317.52" stroke="#8a8a8a" stroke-width="1.0"/>
<text x="339.20" y="320.02" text-anchor="end" font-size="7.1" >10</text>
<line x1="340.70" y1="304.63" x2="344.20" y2="304.63" stroke="#8a8a8a" stroke-width="1.0"/>
<text x="339.20" y="307.13" text-anchor="end" font-size="7.1" >15</text>
<line x1="340.70" y1="291.74" x2="344.20" y2="291.74" stroke="#8a8a8a" stroke-width="1.0"/>
<text x="339.20" y="294.24" text-anchor="end" font-size="7.1" >20</text>
<line x1="340.70" y1="278.85" x2="344.20" y2="278.85" stroke="#8a8a8a" stroke-width="1.0"/>
<text x="339.20" y="281.35" text-anchor="end" font-size="7.1" >25</text>
<line x1="340.70" y1="265.96" x2="344.20" y2="265.96" stroke="#8a8a8a" stroke-width="1.0"/>
<text x="339.20" y="268.46" text-anchor="end" font-size="7.1" >30</text>
<line x1="340.70" y1="253.07" x2="344.20" y2="253.07" stroke="#8a8a8a" stroke-width="1.0"/>
<text x="339.20" y="255.57" text-anchor="end" font-size="7.1" >35</text>
<line x1="340.70" y1="240.18" x2="344.20" y2="240.18" stroke="#8a8a8a" stroke-width="1.0"/>
<text x="339.20" y="242.68" text-anchor="end" font-size="7.1" >40</text>
<line x1="340.70" y1="227.29" x2="344.20" y2="227.29" stroke="#8a8a8a" stroke-width="1.0"/>
<text x="339.20" y="229.79" text-anchor="end" font-size="7.1" >45</text>
<line x1="340.70" y1="214.40" x2="344.20" y2="214.40" stroke="#8a8a8a" stroke-width="1.0"/>
<text x="339.20" y="216.90" text-anchor="end" font-size="7.1" >50</text>
<line x1="342.60" y1="340.72" x2="344.20" y2="340.72" stroke="#a0a0a0" stroke-width="0.8"/>
<line x1="342.60" y1="338.14" x2="344.20" y2="338.14" stroke="#a0a0a0" stroke-width="0.8"/>
<line x1="342.60" y1="335.57" x2="344.20" y2="335.57" stroke="#a0a0a0" stroke-width="0.8"/>
<line x1="342.60" y1="332.99" x2="344.20" y2="332.99" stroke="#a0a0a0" stroke-width="0.8"/>
<line x1="342.60" y1="327.83" x2="344.20" y2="327.83" stroke="#a0a0a0" stroke-width="0.8"/>
<line x1="342.60" y1="325.25" x2="344.20" y2="325.25" stroke="#a0a0a0" stroke-width="0.8"/>
<line x1="342.60" y1="322.68" x2="344.20" y2="322.68" stroke="#a0a0a0" stroke-width="0.8"/>
<line x1="342.60" y1="320.10" x2="344.20" y2="320.10" stroke="#a0a0a0" stroke-width="0.8"/>
<line x1="342.60" y1="314.94" x2="344.20" y2="314.94" stroke="#a0a0a0" stroke-width="0.8"/>
<line x1="342.60" y1="312.36" x2="344.20" y2="312.36" stroke="#a0a0a0" stroke-width="0.8"/>
<line x1="342.60" y1="309.79" x2="344.20" y2="309.79" stroke="#a0a0a0" stroke-width="0.8"/>
<line x1="342.60" y1="307.21" x2="344.20" y2="307.21" stroke="#a0a0a0" stroke-width="0.8"/>
<line x1="342.60" y1="302.05" x2="344.20" y2="302.05" stroke="#a0a0a0" stroke-width="0.8"/>
<line x1="342.60" y1="299.47" x2="344.20" y2="299.47" stroke="#a0a0a0" stroke-width="0.8"/>
<line x1="342.60" y1="296.90" x2="344.20" y2="296.90" stroke="#a0a0a0" stroke-width="0.8"/>
<line x1="342.60" y1="294.32" x2="344.20" y2="294.32" stroke="#a0a0a0" stroke-width="0.8"/>
<line x1="342.60" y1="289.16" x2="344.20" y2="289.16" stroke="#a0a0a0" stroke-width="0.8"/>
<line x1="342.60" y1="286.58" x2="344.20" y2="286.58" stroke="#a0a0a0" stroke-width="0.8"/>
<line x1="342.60" y1="284.01" x2="344.20" y2="284.01" stroke="#a0a0a0" stroke-width="0.8"/>
<line x1="342.60" y1="281.43" x2="344.20" y2="281.43" stroke="#a0a0a0" stroke-width="0.8"/>
<line x1="342.60" y1="276.27" x2="344.20" y2="276.27" stroke="#a0a0a0" stroke-width="0.8"/>
<line x1="342.60" y1="273.69" x2="344.20" y2="273.69" stroke="#a0a0a0" stroke-width="0.8"/>
<line x1="342.60" y1="271.12" x2="344.20" y2="271.12" stroke="#a0a0a0" stroke-width="0.8"/>
<line x1="342.60" y1="268.54" x2="344.20" y2="268.54" stroke="#a0a0a0" stroke-width="0.8"/>
<line x1="342.60" y1="263.38" x2="344.20" y2="263.38" stroke="#a0a0a0" stroke-width="0.8"/>
<line x1="342.60" y1="260.80" x2="344.20" y2="260.80" stroke="#a0a0a0" stroke-width="0.8"/>
<line x1="342.60" y1="258.23" x2="344.20" y2="258.23" stroke="#a0a0a0" stroke-width="0.8"/>
<line x1="342.60" y1="255.65" x2="344.20" y2="255.65" stroke="#a0a0a0" stroke-width="0.8"/>
<line x1="342.60" y1="250.49" x2="344.20" y2="250.49" stroke="#a0a0a0" stroke-width="0.8"/>
<line x1="342.60" y1="247.91" x2="344.20" y2="247.91" stroke="#a0a0a0" stroke-width="0.8"/>
<line x1="342.60" y1="245.34" x2="344.20" y2="245.34" stroke="#a0a0a0" stroke-width="0.8"/>
<line x1="342.60" y1="242.76" x2="344.20" y2="242.76" stroke="#a0a0a0" stroke-width="0.8"/>
<line x1="342.60" y1="237.60" x2="344.20" y2="237.60" stroke="#a0a0a0" stroke-width="0.8"/>
<line x1="342.60" y1="235.02" x2="344.20" y2="235.02" stroke="#a0a0a0" stroke-width="0.8"/>
<line x1="342.60" y1="232.45" x2="344.20" y2="232.45" stroke="#a0a0a0" stroke-width="0.8"/>
<line x1="342.60" y1="229.87" x2="344.20" y2="229.87" stroke="#a0a0a0" stroke-width="0.8"/>
<line x1="342.60" y1="224.71" x2="344.20" y2="224.71" stroke="#a0a0a0" stroke-width="0.8"/>
<line x1="342.60" y1="222.13" x2="344.20" y2="222.13" stroke="#a0a0a0" stroke-width="0.8"/>
<line x1="342.60" y1="219.56" x2="344.20" y2="219.56" stroke="#a0a0a0" stroke-width="0.8"/>
<line x1="342.60" y1="216.98" x2="344.20" y2="216.98" stroke="#a0a0a0" stroke-width="0.8"/>
<text transform="translate(319.30,278.90) rotate(-90)" text-anchor="middle" font-size="7.25">Flk-1 Sca-1 positive cells</text>
<text transform="translate(327.70,278.30) rotate(-90)" text-anchor="middle" font-size="7.25">(number/10 000 MNC)</text>
<line x1="365.50" y1="285.50" x2="365.50" y2="282.00" stroke="#222" stroke-width="0.9"/>
<line x1="363.20" y1="282.00" x2="367.80" y2="282.00" stroke="#222" stroke-width="0.9"/>
<rect x="354.90" y="286.00" width="21.20" height="57.30" fill="#fff" stroke="#222" stroke-width="1"/>
<line x1="408.75" y1="243.30" x2="408.75" y2="238.30" stroke="#222" stroke-width="0.9"/>
<line x1="406.45" y1="238.30" x2="411.05" y2="238.30" stroke="#222" stroke-width="0.9"/>
<rect x="397.80" y="243.30" width="21.90" height="100.00" fill="#000"/>
<line x1="451.45" y1="300.60" x2="451.45" y2="298.20" stroke="#222" stroke-width="0.9"/>
<line x1="449.15" y1="298.20" x2="453.75" y2="298.20" stroke="#222" stroke-width="0.9"/>
<rect x="440.90" y="301.10" width="21.10" height="42.20" fill="url(#hatchL)" stroke="#222" stroke-width="1"/>
<line x1="494.60" y1="296.80" x2="494.60" y2="293.40" stroke="#222" stroke-width="0.9"/>
<line x1="492.30" y1="293.40" x2="496.90" y2="293.40" stroke="#222" stroke-width="0.9"/>
<rect x="483.40" y="296.80" width="22.40" height="46.50" fill="url(#hatchD)"/>
<text x="365.20" y="355.20" text-anchor="middle" font-size="7.1" >+/+</text>
<text x="364.30" y="368.20" text-anchor="middle" font-size="7.1" >Controls</text>
<text x="408.40" y="355.20" text-anchor="middle" font-size="7.1" >+/+</text>
<text x="407.50" y="368.20" text-anchor="middle" font-size="7.1" >AdA-I</text>
<text x="451.10" y="355.20" text-anchor="middle" font-size="7.1" >-/-</text>
<text x="450.20" y="368.20" text-anchor="middle" font-size="7.1" >Controls</text>
<text x="494.10" y="355.20" text-anchor="middle" font-size="7.1" >-/-</text>
<text x="493.20" y="368.20" text-anchor="middle" font-size="7.1" >AdA-I</text>
<text x="271.00" y="355.60" text-anchor="start" font-size="7.1" >SR-BI in bone marrow</text>
<text x="271.00" y="368.20" text-anchor="start" font-size="7.1" >Injection</text>
<line x1="410.00" y1="209.00" x2="495.70" y2="209.00" stroke="#484848" stroke-width="1.05"/>
<line x1="364.70" y1="221.60" x2="452.00" y2="221.60" stroke="#484848" stroke-width="1.05"/>
<line x1="364.70" y1="234.60" x2="407.00" y2="234.60" stroke="#484848" stroke-width="1.05"/>
<line x1="410.40" y1="234.60" x2="453.00" y2="234.60" stroke="#484848" stroke-width="1.05"/>
<text x="449.60" y="206.60" text-anchor="middle" font-size="7.1" ><tspan font-style="italic">P</tspan> &lt; .001</text>
<text x="409.00" y="218.20" text-anchor="middle" font-size="7.1" ><tspan font-style="italic">P</tspan> &lt; .05</text>
<text x="383.50" y="231.60" text-anchor="middle" font-size="7.1" ><tspan font-style="italic">P</tspan> &lt; .001</text>
<text x="429.70" y="231.60" text-anchor="middle" font-size="7.1" ><tspan font-style="italic">P</tspan> &lt; .001</text>
</svg>
</body></html>
